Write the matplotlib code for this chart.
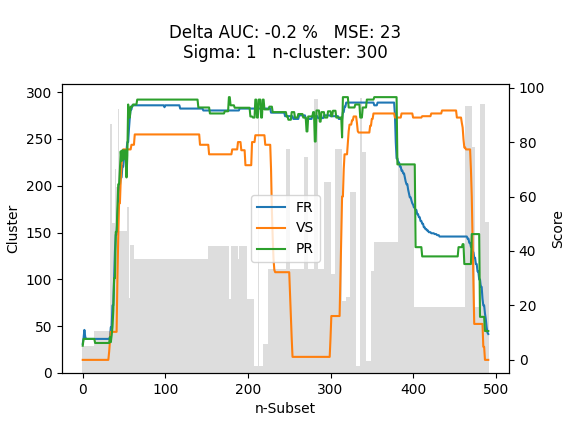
import numpy as np
import matplotlib
matplotlib.use("Agg")
import matplotlib.pyplot as plt

N_POINTS = 492
subset_index = np.arange(N_POINTS)

# Cluster sizes (gray bars), run-length: start index -> value
bar_start = [0, 14, 33, 36, 39, 41, 43, 44, 54, 56, 58, 62, 152, 178, 180, 188, 190,
             199, 208, 213, 214, 219, 225, 247, 251, 269, 273, 281, 285, 293, 301,
             306, 314, 319, 324, 331, 336, 339, 344, 350, 353, 382, 402, 463, 472,
             476, 481, 487]
bar_value = [29, 45, 266, 160, 218, 199, 282, 152, 177, 80, 137, 122, 136, 79, 136, 122, 136,
             79, 7, 273, 8, 31, 111, 239, 111, 231, 111, 293, 111, 204, 106,
             239, 77, 81, 193, 7, 294, 236, 13, 109, 140, 223, 71, 285, 241,
             71, 287, 161]

# FR score
fr_start = [0, 1, 2, 3, 4, 33, 34, 36, 38, 39, 40, 42, 43, 44, 46, 48, 50, 52, 54, 56, 57, 58,
            60, 99, 100, 118, 146, 190, 228, 245, 255, 262, 270, 278, 285, 292, 300, 310,
            315, 317, 319, 353, 357, 378, 379, 380, 382, 384, 386, 388, 390, 391, 392, 394,
            395, 396, 398, 399, 400, 401, 403, 405, 407, 409, 411, 413, 415, 417, 419, 422,
            426, 429, 432, 466, 468, 470, 472, 474, 476, 478, 480, 482, 484, 485, 487, 488,
            489, 490, 491]
fr_value = [5.9, 8, 11, 8.5, 7.7, 8.4, 12, 20, 30, 40, 46, 52, 58, 64, 67, 71, 74, 77, 80, 85, 89, 92,
            93.5, 92.8, 93.5, 92.3, 91.6, 92.3, 90.8, 89.5, 88.5, 89.8, 88.5, 89.5, 88.8, 89.8, 89.5, 88.5,
            91, 93, 94.5, 93.5, 94.5, 90, 80, 74, 72.5, 71, 69.5, 68.5, 67, 65.5, 64.5, 62.5,
            61, 59.7, 58.5, 57.5, 57, 56, 55, 53.5, 52.4, 51, 50, 48.7, 48, 47.5, 46.9, 46.5,
            46.2, 45.8, 45.3, 44.5, 43, 41.5, 39.5, 37.5, 35.2, 32.5, 29.5, 26.8, 22.5, 20, 17, 15,
            12, 10, 9.5]

# VS score
vs_start = [0, 32, 33, 34, 42, 43, 44, 46, 47, 48, 49, 59, 63, 142, 153, 181, 188, 192, 197,
            205, 209, 221, 228, 229, 230, 231, 232, 233, 251, 252, 253, 254, 300, 301, 312,
            313, 314, 316, 317, 321, 322, 323, 326, 328, 332, 333, 334, 348, 350, 352, 378,
            386, 400, 411, 422, 435, 453, 459, 460, 461, 462, 464, 470, 471, 472, 473, 474,
            485, 487]
vs_value = [0, 3, 7, 10.3, 30, 45, 57.5, 66, 72, 75, 77.3, 79, 82.8, 79, 75.5, 77.3, 80, 77, 71.5,
            80, 82.5, 79, 70, 55, 45, 37, 33, 32.2, 24, 16, 8, 1.1, 8, 16.1, 30,
            45, 60, 70, 75.5, 80, 84, 86.4, 88, 89.4, 87, 84, 83.5, 86, 88.5, 90.5, 89,
            90.5, 89, 89.5, 90.5, 91.6, 89, 87, 85.3, 81, 78, 77.3, 70, 60, 45, 30, 13.2,
            4.8, 0]

# PR score
pr_start = [0, 1, 15, 33, 34, 35, 36, 37, 38, 40, 42, 43, 45, 46, 47, 48, 49, 50, 51, 52, 53,
            54, 55, 56, 58, 61, 66, 140, 154, 172, 177, 179, 184, 197, 203, 206, 209, 211,
            213, 216, 218, 220, 226, 230, 247, 249, 253, 257, 261, 267, 271, 273, 279, 281,
            283, 287, 289, 293, 297, 301, 303, 307, 314, 315, 322, 330, 336, 339, 344, 353,
            381, 403, 411, 455, 460, 462, 471, 481, 487]
pr_value = [5.2, 7.7, 6.2, 8.4, 6.5, 9, 12, 18, 30, 47, 56, 64.5, 70, 76.6, 73, 77, 73.5, 77, 74, 77, 67,
            75, 93.8, 89, 93, 93.8, 95.6, 92.7, 90.5, 91.3, 96.5, 93.5, 92.6, 92.6, 89.4, 89, 95.6, 89,
            95.6, 89, 95.6, 92, 93, 91, 89.4, 88.2, 91, 89, 90.3, 89, 83.9, 89.4, 91, 80.2,
            91.6, 87.5, 91, 89, 91.3, 89.5, 91.5, 89, 81.7, 96.5, 92.7, 93.8, 89, 92.7, 95.6, 96.5,
            71.8, 41.4, 38, 41.4, 42.5, 35.2, 46.2, 15.8, 10.6]

series_names = ["FR", "VS", "PR"]
title_text = "Delta AUC: -0.2 %   MSE: 23\nSigma: 1   n-cluster: 300"


def expand(starts, values, n):
    out = np.empty(n)
    for i, (s, v) in enumerate(zip(starts, values)):
        e = starts[i + 1] if i + 1 < len(starts) else n
        out[s:e] = v
    return out


bars = expand(bar_start, bar_value, N_POINTS)
fr = expand(fr_start, fr_value, N_POINTS)
vs = expand(vs_start, vs_value, N_POINTS)
pr = expand(pr_start, pr_value, N_POINTS)

fig = plt.figure(figsize=(5.72, 4.24), dpi=100)
ax = fig.add_axes([62 / 572, 1 - 373 / 424, 447 / 572, 289 / 424])
ax.bar(subset_index, bars, width=1.0, color="#dddddd", linewidth=0)
ax.set_xlabel("n-Subset")
ax.set_ylabel("Cluster")

ax2 = ax.twinx()
ax2.plot(subset_index, fr, color="C0", label=series_names[0])
ax2.plot(subset_index, vs, color="C1", label=series_names[1])
ax2.plot(subset_index, pr, color="C2", label=series_names[2])
ax2.set_ylabel("Score")
ax2.legend(loc="center")

fig.text((62 + 509) / 2 / 572, 1 - 24 / 424, title_text, ha="center", va="top",
         fontsize=12, linespacing=1.15)

fig.savefig("out.png", dpi=100)
